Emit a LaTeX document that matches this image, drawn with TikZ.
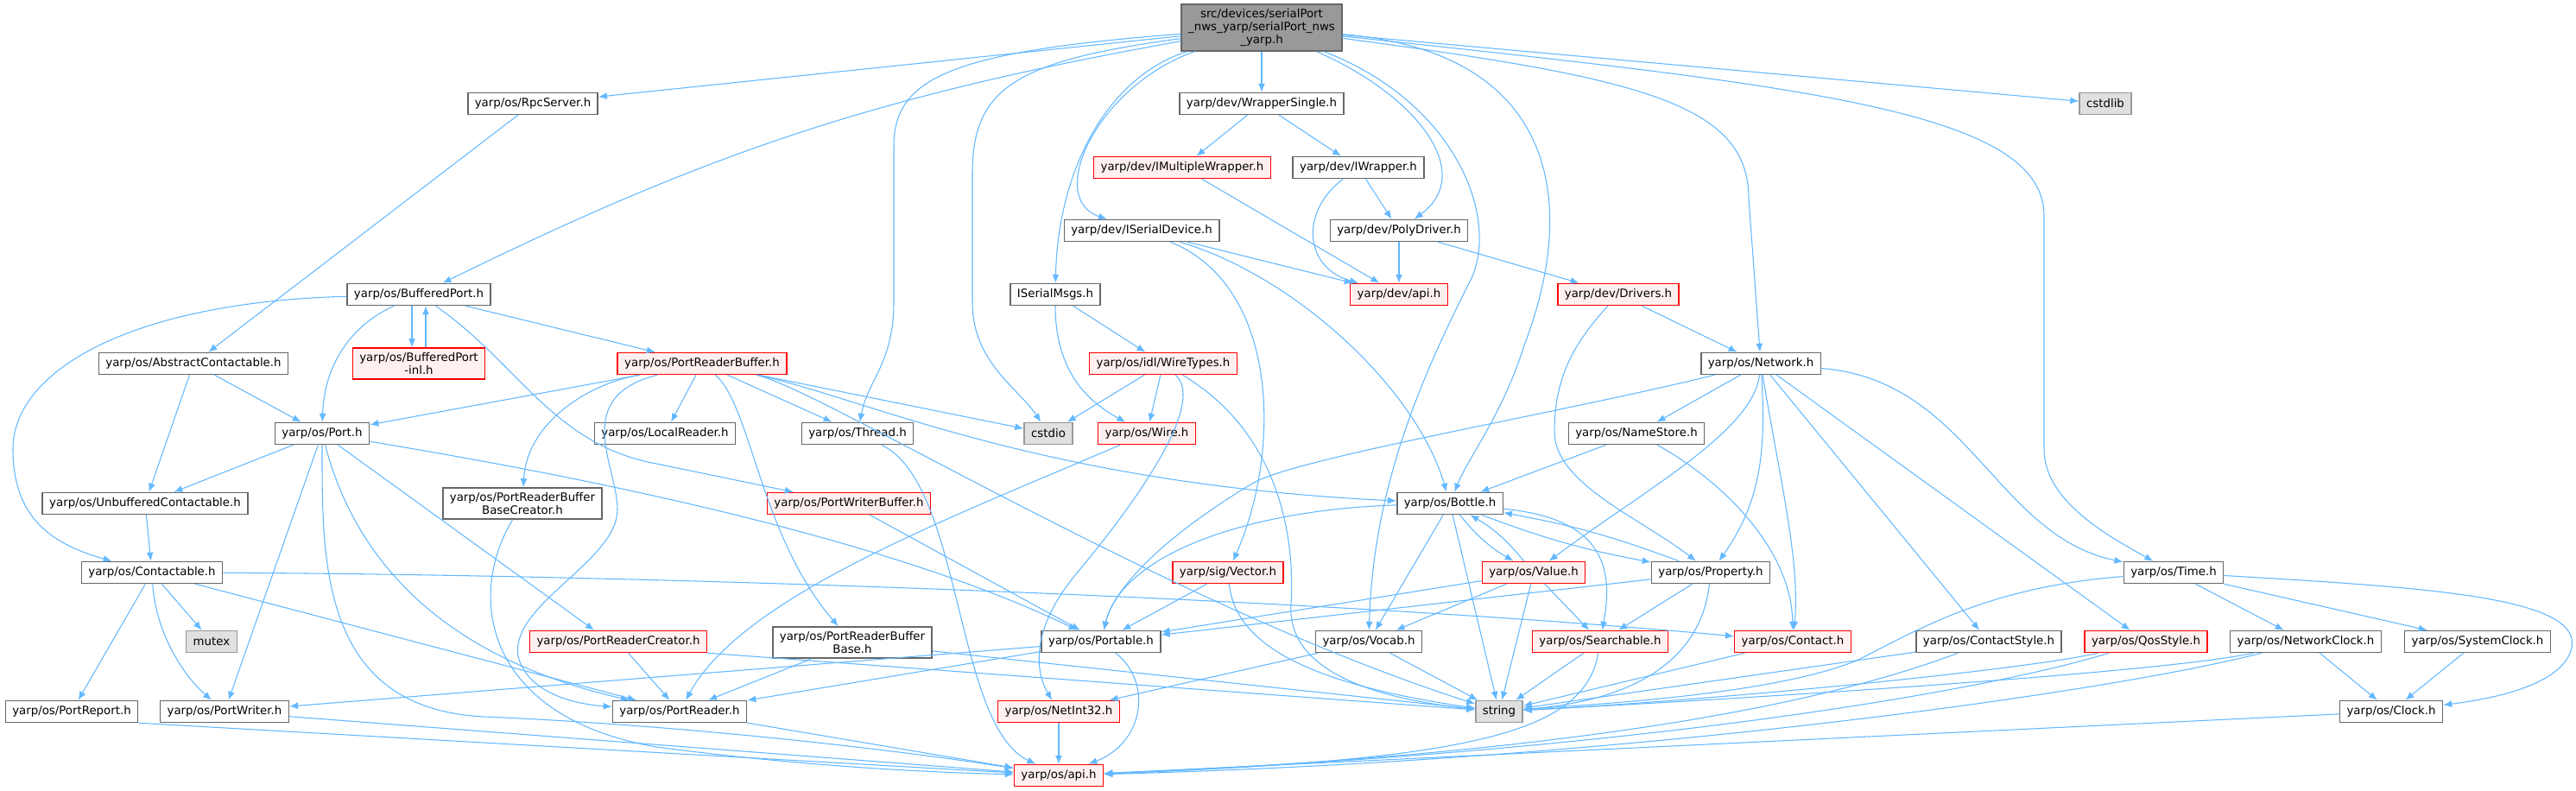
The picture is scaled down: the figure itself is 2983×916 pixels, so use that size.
\documentclass[tikz,border=0pt]{standalone}
\usepackage{fontspec}
\setmainfont{DejaVu Sans}
\usepackage{xcolor}
\definecolor{edgeblue}{RGB}{99,184,255}
\definecolor{boxgrey}{RGB}{102,102,102}
\definecolor{sysgrey}{RGB}{153,153,153}
\definecolor{sysfill}{RGB}{224,224,224}
\definecolor{truncfill}{RGB}{255,240,240}
\usepackage{tikz}
\usetikzlibrary{arrows.meta}

\begin{document}
\begin{tikzpicture}[x=0.75pt, y=-0.75pt,
    hdr/.style={draw=boxgrey, fill=white, line width=1.1pt, align=center,
        font=\fontsize{10}{11.25}\selectfont, inner xsep=6pt, inner ysep=4pt, minimum height=18.75pt},
    hdrred/.style={hdr, draw=red, fill=truncfill},
    hdrsys/.style={hdr, draw=sysgrey, fill=sysfill},
    hdrroot/.style={hdr, draw=boxgrey, fill=sysgrey},
    inc/.style={draw=edgeblue, line width=0.8pt, -{Latex[length=7.5pt,width=6pt]}}]
    \useasboundingbox (0,0) rectangle (2983,916);

    % The file itself
    \node[hdrroot] (Root) at (1461,32) {src/devices/serialPort\\\_nws\_yarp/serialPort\_nws\\\_yarp.h};

    % Upper rows
    \node[hdr] (RpcSrv) at (617,120) {yarp/os/RpcServer.h};
    \node[hdr] (WrapSgl) at (1461,120) {yarp/dev/WrapperSingle.h};
    \node[hdrsys] (Cstdlib) at (2438,120) {cstdlib};
    \node[hdrred] (IMulti) at (1369,194) {yarp/dev/IMultipleWrapper.h};
    \node[hdr] (IWrap) at (1573,194) {yarp/dev/IWrapper.h};
    \node[hdr] (ISerDev) at (1322,267) {yarp/dev/ISerialDevice.h};
    \node[hdr] (PolyDrv) at (1620,267) {yarp/dev/PolyDriver.h};
    \node[hdr] (BufPort) at (485,341) {yarp/os/BufferedPort.h};
    \node[hdr] (ISerMsg) at (1222,341) {ISerialMsgs.h};
    \node[hdrred] (DevApi) at (1620,341) {yarp/dev/api.h};
    \node[hdrred] (Drivers) at (1874,341) {yarp/dev/Drivers.h};
    \node[hdr] (AbsCont) at (224,421) {yarp/os/AbstractContactable.h};
    \node[hdrred] (BufInl) at (485,421) {yarp/os/BufferedPort\\-inl.h};
    \node[hdrred] (PRBuf) at (813,421) {yarp/os/PortReaderBuffer.h};
    \node[hdrred] (WireTy) at (1347,421) {yarp/os/idl/WireTypes.h};
    \node[hdr] (Network) at (2039,421) {yarp/os/Network.h};

    % Middle rows
    \node[hdr] (Port) at (373,502) {yarp/os/Port.h};
    \node[hdr] (LocRd) at (770,502) {yarp/os/LocalReader.h};
    \node[hdr] (Thread) at (993,502) {yarp/os/Thread.h};
    \node[hdrsys] (Cstdio) at (1214,502) {cstdio};
    \node[hdrred] (Wire) at (1328,502) {yarp/os/Wire.h};
    \node[hdr] (NameSt) at (1895,502) {yarp/os/NameStore.h};
    \node[hdr] (Unbuf) at (168,583) {yarp/os/UnbufferedContactable.h};
    \node[hdr] (PRBBC) at (605,583) {yarp/os/PortReaderBuffer\\BaseCreator.h};
    \node[hdrred] (PWBuf) at (983,583) {yarp/os/PortWriterBuffer.h};
    \node[hdr] (Bottle) at (1679,583) {yarp/os/Bottle.h};
    \node[hdr] (Contactable) at (176,663) {yarp/os/Contactable.h};
    \node[hdrred] (Vector) at (1422,663) {yarp/sig/Vector.h};
    \node[hdrred] (Value) at (1776,663) {yarp/os/Value.h};
    \node[hdr] (Property) at (1981,663) {yarp/os/Property.h};
    \node[hdr] (Time) at (2517,663) {yarp/os/Time.h};

    % Lower rows
    \node[hdrsys] (Mutex) at (245,743) {mutex};
    \node[hdrred] (PRCreat) at (716,743) {yarp/os/PortReaderCreator.h};
    \node[hdr] (PRBB) at (987,744) {yarp/os/PortReaderBuffer\\Base.h};
    \node[hdr] (Portable) at (1275,743) {yarp/os/Portable.h};
    \node[hdr] (Vocab) at (1585,743) {yarp/os/Vocab.h};
    \node[hdrred] (Searchable) at (1853,743) {yarp/os/Searchable.h};
    \node[hdrred] (Contact) at (2076,743) {yarp/os/Contact.h};
    \node[hdr] (CStyle) at (2303,743) {yarp/os/ContactStyle.h};
    \node[hdrred] (Qos) at (2485,743) {yarp/os/QosStyle.h};
    \node[hdr] (NetClock) at (2670,743) {yarp/os/NetworkClock.h};
    \node[hdr] (SysClock) at (2869,743) {yarp/os/SystemClock.h};
    \node[hdr] (PortRep) at (83,824) {yarp/os/PortReport.h};
    \node[hdr] (PWriter) at (260,824) {yarp/os/PortWriter.h};
    \node[hdr] (PReader) at (787,824) {yarp/os/PortReader.h};
    \node[hdrred] (NetInt) at (1226,824) {yarp/os/NetInt32.h};
    \node[hdrsys] (String) at (1736,824) {string};
    \node[hdr] (Clock) at (2769,824) {yarp/os/Clock.h};
    \node[hdrred] (OsApi) at (1226,898) {yarp/os/api.h};

    % Includes of the file itself
    \draw[inc] (Root) -- (RpcSrv);
    \draw[inc] (Root) -- (WrapSgl);
    \draw[inc] (Root) -- (Cstdlib);
    \draw[inc] (Root) to[bend right=8] (BufPort);
    \draw[inc] (Root) .. controls (1100,60) and (1035,90) .. (1035,170) -- (1035,350) .. controls (1035,420) and (1005,440) .. (Thread);
    \draw[inc] (Root) .. controls (1180,70) and (1126,100) .. (1126,200) -- (1126,350) .. controls (1126,420) and (1180,450) .. (Cstdio);
    \draw[inc] (Root) .. controls (1280,90) and (1225,200) .. (ISerMsg);
    \draw[inc] (Root) .. controls (1270,100) and (1210,230) .. (ISerDev);
    \draw[inc] (Root) .. controls (1640,110) and (1710,200) .. (PolyDrv);
    \draw[inc] (Root) .. controls (1690,120) and (1740,260) .. (1700,330) .. controls (1650,430) and (1590,560) .. (Vocab);
    \draw[inc] (Root) .. controls (1800,60) and (1830,230) .. (1765,400) .. controls (1740,480) and (1700,530) .. (Bottle);
    \draw[inc] (Root) .. controls (1900,90) and (2025,120) .. (2025,230) -- (Network);
    \draw[inc] (Root) .. controls (2100,100) and (2367,130) .. (2367,250) -- (2367,520) .. controls (2367,580) and (2440,620) .. (Time);

    % Device headers
    \draw[inc] (WrapSgl) -- (IMulti);
    \draw[inc] (WrapSgl) -- (IWrap);
    \draw[inc] (IMulti) -- (DevApi);
    \draw[inc] (IWrap) -- (PolyDrv);
    \draw[inc] (IWrap) .. controls (1505,245) and (1510,310) .. (DevApi);
    \draw[inc] (PolyDrv) -- (DevApi);
    \draw[inc] (PolyDrv) -- (Drivers);
    \draw[inc] (ISerDev) -- (DevApi);
    \draw[inc] (ISerDev) .. controls (1500,320) and (1640,450) .. (Bottle);
    \draw[inc] (ISerDev) .. controls (1480,330) and (1485,520) .. (Vector);
    \draw[inc] (ISerMsg) -- (WireTy);
    \draw[inc] (ISerMsg) .. controls (1222,420) and (1250,460) .. (Wire);
    \draw[inc] (Drivers) -- (Network);
    \draw[inc] (Drivers) .. controls (1820,400) and (1800,440) .. (1800,500) .. controls (1800,560) and (1900,600) .. (Property);

    % Ports and buffers
    \draw[inc] (RpcSrv) -- (AbsCont);
    \draw[inc] (BufPort) .. controls (150,350) and (15,430) .. (15,520) .. controls (15,600) and (60,630) .. (Contactable);
    \draw[inc] ([xshift=-6pt]BufPort.south) -- ([xshift=-6pt]BufInl.north);
    \draw[inc] ([xshift=6pt]BufInl.north) -- ([xshift=6pt]BufPort.south);
    \draw[inc] (BufPort) .. controls (400,380) and (375,430) .. (Port);
    \draw[inc] (BufPort) -- (PRBuf);
    \draw[inc] (BufPort) .. controls (600,420) and (640,515) .. (760,537) -- (PWBuf);
    \draw[inc] (AbsCont) -- (Unbuf);
    \draw[inc] (AbsCont) -- (Port);
    \draw[inc] (PRBuf) -- (Port);
    \draw[inc] (PRBuf) .. controls (680,445) and (610,490) .. (PRBBC);
    \draw[inc] (PRBuf) .. controls (660,460) and (715,540) .. (715,590) .. controls (715,650) and (590,700) .. (600,760) .. controls (610,800) and (660,815) .. (PReader);
    \draw[inc] (PRBuf) -- (LocRd);
    \draw[inc] (PRBuf) -- (Thread);
    \draw[inc] (PRBuf) .. controls (870,470) and (880,620) .. (PRBB);
    \draw[inc] (PRBuf) -- (Cstdio);
    \draw[inc] (PRBuf) .. controls (1000,460) and (1200,560) .. (Bottle);
    \draw[inc] (PRBuf) .. controls (950,450) and (1350,700) .. (String);
    \draw[inc] (WireTy) -- (Cstdio);
    \draw[inc] (WireTy) -- (Wire);
    \draw[inc] (WireTy) .. controls (1400,470) and (1300,600) .. (1250,660) .. controls (1190,730) and (1200,780) .. (NetInt);
    \draw[inc] (WireTy) .. controls (1480,500) and (1500,620) .. (1495,700) .. controls (1490,780) and (1600,810) .. (String);
    \draw[inc] (Port) -- (Unbuf);
    \draw[inc] (Port) -- (PWriter);
    \draw[inc] (Port) .. controls (373,650) and (370,820) .. (560,830) .. controls (800,840) and (1050,870) .. (OsApi);
    \draw[inc] (Port) .. controls (420,680) and (550,770) .. (PReader);
    \draw[inc] (Port) -- ([xshift=-21pt]PRCreat.north);
    \draw[inc] (Port) .. controls (600,540) and (1000,610) .. (Portable);
    \draw[inc] (Unbuf) -- (Contactable);
    \draw[inc] (Contactable) -- (Mutex);
    \draw[inc] (Contactable) -- (PortRep);
    \draw[inc] (Contactable) .. controls (180,730) and (210,780) .. (PWriter);
    \draw[inc] (Contactable) -- (PReader);
    \draw[inc] (Contactable) .. controls (700,665) and (1500,690) .. (Contact);
    \draw[inc] (PRBBC) .. controls (540,690) and (560,830) .. (760,865) .. controls (950,890) and (1100,895) .. (OsApi);
    \draw[inc] (PRCreat) -- (PReader);
    \draw[inc] (PRCreat.south east) -- (String);
    \draw[inc] (PRBB) -- (PReader);
    \draw[inc] (PRBB) -- (String);
    \draw[inc] (Thread) .. controls (1115,560) and (1105,840) .. ([xshift=-20pt]OsApi.north);
    \draw[inc] (Wire) .. controls (1100,600) and (860,690) .. (PReader);
    \draw[inc] (PWBuf) -- (Portable);

    % Network, values and properties
    \draw[inc] (Network) .. controls (1800,480) and (1500,530) .. (1450,560) .. controls (1350,620) and (1290,680) .. (Portable);
    \draw[inc] (Network) -- (NameSt);
    \draw[inc] (Network) .. controls (2030,500) and (1900,570) .. (Value);
    \draw[inc] (Network) .. controls (2045,520) and (2040,580) .. (Property);
    \draw[inc] (Network) .. controls (2060,550) and (2085,650) .. (Contact);
    \draw[inc] (Network) -- (CStyle);
    \draw[inc] (Network) -- (Qos);
    \draw[inc] (Network) .. controls (2280,440) and (2310,620) .. (Time);
    \draw[inc] (NameSt) -- (Bottle);
    \draw[inc] (NameSt) .. controls (2000,560) and (2075,640) .. (Contact);
    \draw[inc] (Bottle) -- (Vocab);
    \draw[inc] (Bottle) -- (String);
    \draw[inc] (Bottle) to[bend right=10] (Value);
    \draw[inc] (Value) to[bend right=10] (Bottle);
    \draw[inc] (Bottle) to[bend right=5] (Property);
    \draw[inc] (Property) to[bend right=5] (Bottle);
    \draw[inc] (Bottle) .. controls (1850,600) and (1870,650) .. (Searchable);
    \draw[inc] (Bottle) .. controls (1450,590) and (1300,640) .. (Portable);
    \draw[inc] (Value) -- (Vocab);
    \draw[inc] (Value) -- (String);
    \draw[inc] (Value) -- (Searchable);
    \draw[inc] (Value) -- (Portable);
    \draw[inc] (Property) -- (Searchable);
    \draw[inc] (Property) .. controls (1970,760) and (1900,810) .. (String);
    \draw[inc] (Property) -- (Portable);
    \draw[inc] (Vector) -- (Portable);
    \draw[inc] (Vector) .. controls (1430,740) and (1500,790) .. (String);

    % Clocks
    \draw[inc] (Time) -- (NetClock);
    \draw[inc] (Time) -- (SysClock);
    \draw[inc] (Time) .. controls (2800,680) and (2990,690) .. (2978,750) .. controls (2968,795) and (2880,810) .. (Clock);
    \draw[inc] (Time) .. controls (2300,680) and (2220,730) .. (2150,765) .. controls (2050,805) and (1850,815) .. (String);
    \draw[inc] (NetClock) -- (Clock);
    \draw[inc] (SysClock) -- (Clock);

    % Bottom row
    \draw[inc] (Portable) -- (PWriter);
    \draw[inc] (Portable) -- (PReader);
    \draw[inc] (Portable) .. controls (1335,790) and (1325,860) .. (OsApi);
    \draw[inc] (Vocab) -- (String);
    \draw[inc] (Vocab) -- (NetInt);
    \draw[inc] (Searchable) -- (String);
    \draw[inc] (Searchable) .. controls (1835,850) and (1700,880) .. (OsApi);
    \draw[inc] (Contact) -- (String);
    \draw[inc] (CStyle) -- (String);
    \draw[inc] (CStyle) .. controls (2150,800) and (1900,870) .. (OsApi);
    \draw[inc] (Qos) .. controls (2350,775) and (2000,810) .. (String);
    \draw[inc] (Qos) .. controls (2300,800) and (1900,870) .. (OsApi);
    \draw[inc] (NetClock) .. controls (2500,780) and (2000,810) .. (String);
    \draw[inc] (NetClock) .. controls (2450,800) and (1900,880) .. (OsApi);
    \draw[inc] (Clock) -- (OsApi);
    \draw[inc] (PortRep.south east) -- (OsApi);
    \draw[inc] (PWriter) -- (OsApi);
    \draw[inc] (PReader) -- (OsApi);
    \draw[inc] (NetInt) -- (OsApi);
\end{tikzpicture}
\end{document}
